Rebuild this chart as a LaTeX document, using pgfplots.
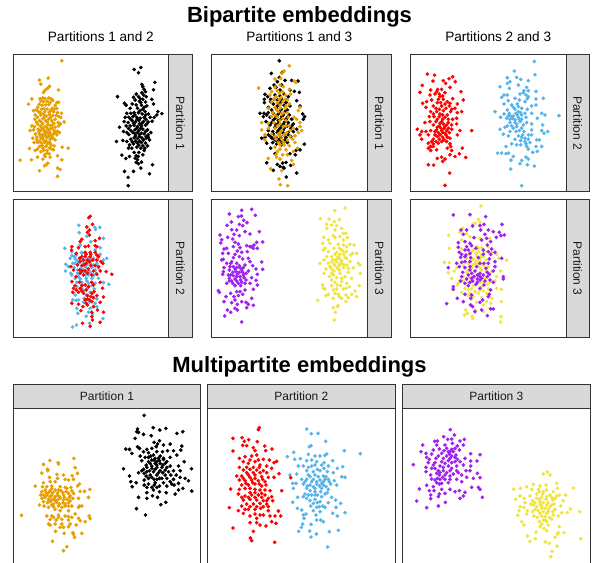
\documentclass[border=0pt]{standalone}
\usepackage{pgfplots}
\pgfplotsset{compat=1.18}
\usepackage{fontspec}
\setmainfont{Liberation Sans}
\definecolor{cor}{HTML}{E69F00}
\definecolor{csk}{HTML}{56B4E9}
\definecolor{cre}{HTML}{FF0000}
\definecolor{cpu}{HTML}{A020F0}
\definecolor{cye}{HTML}{F0E442}
\definecolor{cfr}{HTML}{333333}
\definecolor{cst}{HTML}{D9D9D9}
\definecolor{ctx}{HTML}{1A1A1A}
\pgfplotsset{
 pan/.style n args={8}{anchor=south west,at={(#1pt,{562pt-#4pt})},scale only axis,
  width={#2pt-#1pt},height={#4pt-#3pt},xmin=#5,xmax=#6,ymin=#7,ymax=#8,y dir=reverse,
  xtick=\empty,ytick=\empty,axis line style={draw=cfr,line width=1.0pt}},
 pts/.style={only marks,mark=*,mark size=1.65pt,color=#1,mark options={solid,draw=none,fill=#1}}
}
\newcommand{\vstrip}[5]{\filldraw[fill=cst,draw=cfr,line width=1.0pt] (#1pt,{562pt-#3pt}) rectangle (#2pt,{562pt-#4pt});
 \node[rotate=-90,text=ctx,inner sep=0pt] at ({(#1pt+#2pt)/2},{562pt-(#3pt+#4pt)/2}) {\fontsize{12}{14}\selectfont #5};}
\newcommand{\hstrip}[3]{\filldraw[fill=cst,draw=cfr,line width=1.0pt] (#1pt,{562pt-384.7pt}) rectangle (#2pt,{562pt-408.7pt});
 \node[text=ctx,inner sep=0pt] at ({(#1pt+#2pt)/2},{562pt-396.7pt}) {\fontsize{12}{14}\selectfont #3};}
\begin{document}
\begin{tikzpicture}
\useasboundingbox (0,0) rectangle (594pt,562pt);
\clip (0,0) rectangle (594pt,562pt);
% Row 1, panel 1
\begin{axis}[pan={13.5}{168.5}{54.5}{192}{40}{505}{163}{577}]
\addplot[pts=cor] coordinates {(185,182)(144,234)(118,240)(122,252)(148,259)(142,265)(175,270)(135,270)(130,277)(95,297)(85,313)(175,307)(60,481)(94,480)(118,513)(172,505)(180,509)(172,530)(204,445)(186,442)(172,468)(185,480)
(120,296)(128,294)(135,296)(146,294)(153,297)(158,301)(122,303)(130,305)(141,304)(150,307)(117,313)(126,316)(137,315)(146,314)(165,316)(170,308)(170,325)(184,340)(100,332)(108,330)(115,335)(124,328)(132,326)(142,328)(152,331)(160,335)(172,338)(105,345)(112,352)(122,345)(130,342)(138,348)(148,344)(158,347)(182,352)(192,366)(104,358)(118,362)(128,356)(136,362)(145,358)(155,363)(165,358)(174,368)(181,372)(95,378)(112,372)(120,378)(128,372)(135,380)(143,374)(150,377)(158,374)(165,382)(175,378)(90,392)(100,390)(114,388)(122,392)(130,388)(138,394)(146,390)(153,386)(162,392)(172,394)(178,398)(106,402)(118,402)(127,405)(135,402)(144,400)(152,405)(160,402)(170,405)(98,415)(110,412)(122,416)(130,420)(140,414)(150,418)(158,415)(165,420)(88,446)(102,428)(112,428)(124,430)(133,428)(142,432)(153,436)(162,438)(105,452)(112,448)(118,440)(128,445)(137,440)(148,444)(155,448)(112,472)(128,478)(133,465)(140,460)(147,462)(135,470)(150,472)(138,495)(143,490)(133,498)(160,450)
(113,322)(121,338)(134,335)(147,337)(156,325)(109,367)(124,367)(133,351)(142,367)(151,353)(161,370)(125,384)(133,396)(141,384)(149,397)(156,384)(167,398)(116,396)(103,380)(110,420)(120,408)(128,412)(137,408)(146,409)(155,411)(118,425)(138,424)(147,427)(126,437)(150,430)(131,452)(122,456)(141,452)(168,346)(176,350)(163,327)};
\addplot[pts=black] coordinates {(402,208)(422,202)(415,218)(464,247)(425,253)(460,269)(352,290)(485,341)(473,335)(358,382)(349,425)(365,466)(377,476)(373,515)(400,515)(384,533)(384,558)(457,495)(448,522)(422,505)(415,492)(388,470)
(428,260)(432,268)(436,275)(408,282)(400,292)(415,290)(438,290)(428,298)(405,300)(418,304)(436,306)(455,298)(460,312)(373,310)(378,316)(396,312)(408,315)(424,316)(440,318)(390,325)(412,325)(428,328)(435,335)(470,345)(380,340)(392,340)(402,338)(415,338)(426,342)(445,342)(375,352)(386,352)(398,350)(410,352)(420,355)(432,352)(450,352)(462,352)(372,365)(384,368)(396,362)(406,366)(416,362)(430,365)(444,366)(456,364)(378,378)(390,378)(402,376)(412,380)(424,378)(436,376)(370,395)(380,398)(392,392)(404,390)(416,392)(428,388)(442,390)(452,398)(405,402)(418,404)(432,402)(444,405)(368,422)(380,425)(392,418)(402,414)(412,416)(425,414)(438,415)(448,420)(388,435)(400,432)(412,430)(424,428)(436,430)(442,438)(395,445)(410,442)(422,445)(432,452)(402,458)(416,458)(428,465)(405,475)(412,480)(408,488)(424,487)(385,445)
(422,308)(432,322)(420,332)(437,345)(404,345)(392,358)(411,358)(425,370)(437,358)(400,370)(418,372)(440,372)(385,386)(410,385)(422,385)(436,395)(398,398)(412,398)(424,400)(438,410)(418,410)(406,408)(430,420)(418,424)(406,424)(396,426)(444,412)(428,438)(416,436)(434,445)(414,470)(408,468)(420,296)(430,285)(425,278)(386,404)};
\end{axis}
% Row 1, panel 2
\begin{axis}[pan={211.7}{367.3}{54.5}{192}{35}{502}{163}{577}]
\addplot[pts=black] coordinates {(238,182)(214,220)(246,217)(238,232)(232,245)(255,241)(275,241)(294,243)(222,255)(245,255)(210,265)(283,274)(298,277)(270,270)(195,283)(203,290)(225,285)(240,288)(252,282)(265,290)(193,298)(212,298)(232,300)(245,298)(260,300)(290,302)(193,308)(220,312)(238,312)(252,316)(270,318)(205,322)(228,325)(244,328)(262,330)(300,318)(180,340)(192,340)(205,338)(220,340)(235,342)(250,345)(268,345)(308,342)(314,350)(190,350)(210,352)(226,355)(242,358)(258,358)(275,358)(310,358)(198,365)(215,368)(235,370)(250,372)(265,368)(280,372)(225,382)(240,385)(255,382)(272,385)(290,388)(205,392)(218,395)(232,398)(248,398)(264,398)(280,395)(185,415)(195,412)(212,410)(228,412)(242,412)(258,412)(272,410)(200,430)(218,428)(232,425)(246,428)(262,428)(313,433)(288,452)(300,450)(225,462)(270,462)(286,465)(200,489)(232,494)(248,490)(258,488)(272,497)(240,500)(250,503)(220,512)(252,505)(290,520)(259,532)(235,420)(212,445)
(228,262)(240,270)(222,298)(212,305)(232,318)(244,305)(258,308)(215,330)(238,335)(255,335)(200,345)(228,348)(245,350)(262,352)(220,360)(235,362)(255,365)(210,375)(228,375)(245,378)(262,378)(235,392)(250,390)(220,402)(238,405)(252,405)(265,405)(225,420)(240,420)(255,420)(230,432)(245,435)(205,405)(275,378)(216,415)};
\addplot[pts=cor] coordinates {(268,197)(252,213)(245,220)(225,237)(242,235)(283,243)(288,248)(176,264)(240,255)(250,260)(268,268)(215,275)(232,272)(248,276)(272,282)(210,285)(228,290)(244,292)(262,300)(215,305)(232,308)(248,305)(268,312)(300,322)(205,325)(225,322)(240,325)(256,325)(295,332)(218,338)(235,335)(250,338)(282,352)(215,350)(232,352)(248,355)(265,352)(290,358)(205,370)(222,368)(240,372)(258,378)(300,368)(185,368)(185,390)(205,385)(225,385)(245,392)(270,392)(300,380)(305,392)(195,405)(215,402)(235,402)(252,405)(285,408)(295,398)(228,418)(245,418)(262,420)(285,428)(195,420)(252,435)(268,438)(292,445)(240,448)(258,450)(280,455)(205,476)(228,465)(230,472)(240,478)(275,482)(280,494)(212,507)(245,513)(237,538)(241,555)(263,558)(225,442)
(225,262)(238,280)(256,285)(222,298)(238,298)(255,298)(240,315)(258,318)(230,330)(245,342)(262,338)(225,345)(240,362)(258,362)(232,378)(250,380)(268,378)(240,398)(260,398)(280,385)(225,410)(240,408)(270,410)(235,428)(250,428)(278,418)(240,435)(232,455)(262,465)(248,465)};
\end{axis}
% Row 1, panel 3
\begin{axis}[pan={410.3}{566}{54.5}{192}{31}{498}{163}{577}]
\addplot[pts=cre] coordinates {(82,222)(104,225)(158,230)(147,236)(99,243)(130,242)(166,245)(67,256)(137,250)(150,262)(60,277)(113,268)(125,268)(92,270)(183,275)(135,278)(90,285)(105,282)(118,282)(128,288)(158,296)(190,300)(68,310)(80,305)(95,300)(115,298)(130,298)(142,305)(172,312)(78,322)(100,318)(125,318)(148,318)(165,325)(185,335)(92,335)(110,335)(130,332)(152,335)(172,338)(88,350)(102,350)(118,350)(135,352)(158,358)(170,355)(90,365)(108,365)(125,365)(145,368)(75,368)(100,375)(118,378)(135,380)(155,375)(170,372)(52,388)(65,395)(78,395)(92,392)(110,390)(125,392)(140,392)(155,388)(180,392)(215,392)(60,405)(85,405)(105,405)(120,405)(138,405)(172,405)(65,418)(100,418)(118,418)(132,420)(150,415)(85,430)(100,432)(115,430)(150,432)(85,445)(110,450)(142,445)(155,452)(187,445)(178,462)(165,470)(197,473)(112,476)(125,472)(135,478)(128,485)(85,495)(101,496)(149,520)(135,557)(150,465)(92,452)
(110,275)(120,290)(112,308)(122,308)(135,312)(150,310)(108,325)(118,328)(138,325)(155,328)(100,342)(120,342)(128,345)(142,345)(112,358)(128,358)(145,358)(120,370)(130,372)(140,375)(112,382)(122,384)(132,386)(145,385)(128,398)(115,398)(105,395)(135,400)(148,398)(112,410)(128,412)(142,412)(95,425)(108,425)(125,425)(92,440)(140,425)(100,440)(152,440)};
\addplot[pts=csk] coordinates {(403,184)(343,213)(405,224)(322,233)(350,232)(362,238)(385,242)(330,245)(322,250)(355,255)(300,260)(328,265)(380,262)(408,274)(372,272)(385,272)(312,285)(322,285)(360,282)(378,285)(385,290)(305,292)(345,295)(408,297)(430,295)(325,302)(358,300)(375,305)(312,312)(335,315)(352,312)(395,318)(408,315)(285,335)(322,330)(345,328)(365,325)(382,328)(312,342)(328,345)(348,340)(362,338)(395,340)(425,340)(477,347)(302,352)(320,355)(338,355)(355,352)(378,352)(412,355)(435,345)(330,368)(345,368)(360,365)(380,368)(395,372)(428,375)(315,382)(335,378)(350,380)(300,388)(365,385)(425,392)(432,400)(443,395)(310,403)(330,395)(348,395)(372,395)(395,405)(325,408)(355,408)(365,412)(418,420)(410,420)(335,432)(375,425)(390,428)(350,435)(362,435)(380,440)(318,440)(425,440)(408,440)(385,448)(293,460)(305,460)(318,462)(326,460)(340,470)(398,458)(412,455)(333,481)(378,472)(365,482)(385,478)(360,492)(382,495)(403,499)(332,508)(365,558)
(370,278)(382,296)(340,322)(355,320)(328,340)(340,348)(352,345)(365,345)(330,358)(345,360)(358,358)(365,358)(325,348)(350,372)(370,375)(340,385)(358,392)(385,405)(375,415)(385,418)(368,405)(378,432)(362,422)(345,418)(395,390)(322,378)(335,350)(355,335)(375,340)};
\end{axis}
% Row 2, panel 1
\begin{axis}[pan={13.5}{168.5}{200}{337.3}{40}{505}{15}{427}]
\addplot[pts=csk] coordinates {(236,91)(237,113)(284,97)(299,97)(286,103)(260,124)(310,130)(272,140)(194,160)(300,158)(215,170)(240,150)(285,165)(215,182)(228,180)(245,175)(300,178)(320,190)(210,190)(225,192)(240,190)(265,190)(280,190)(310,195)(197,208)(235,205)(250,205)(270,205)(290,205)(205,215)(222,218)(242,220)(258,218)(275,218)(295,218)(196,228)(212,235)(232,235)(250,232)(270,232)(288,235)(225,250)(240,252)(258,250)(275,250)(295,250)(310,263)(326,268)(230,262)(245,262)(265,265)(285,265)(245,282)(262,280)(282,282)(218,315)(228,316)(235,315)(252,310)(290,312)(250,322)(268,322)(285,325)(230,340)(270,340)(290,335)(233,355)(265,352)(258,364)(277,358)(308,371)(268,385)(229,390)(217,396)
(222,185)(232,198)(248,195)(258,198)(272,195)(218,205)(260,210)(280,210)(232,225)(250,225)(265,228)(285,225)(215,240)(235,245)(255,240)(265,240)(280,242)(245,270)(260,258)(275,272)(230,275)(250,288)(270,292)(225,300)(258,300)(245,172)(225,205)};
\addplot[pts=cre] coordinates {(270,64)(266,68)(277,88)(260,96)(268,105)(262,112)(268,120)(245,133)(240,140)(298,130)(285,137)(215,155)(214,165)(235,158)(255,155)(265,153)(285,152)(290,155)(228,175)(255,172)(270,172)(290,180)(255,185)(270,185)(295,185)(240,200)(262,195)(278,195)(302,200)(232,210)(212,215)(252,210)(285,212)(308,205)(245,228)(265,222)(300,228)(318,230)(335,238)(228,245)(250,240)(275,240)(215,260)(238,262)(255,270)(275,262)(300,262)(220,280)(240,280)(265,275)(307,280)(218,292)(235,292)(250,295)(275,295)(290,302)(310,306)(262,312)(280,308)(215,325)(235,328)(258,325)(275,320)(300,322)(248,335)(262,330)(280,335)(242,347)(292,345)(275,352)(310,352)(275,365)(277,375)(300,382)(247,385)(270,394)(285,172)
(245,185)(258,178)(272,178)(238,190)(250,195)(268,200)(290,195)(245,212)(258,205)(272,212)(295,215)(238,225)(255,228)(280,228)(220,225)(240,235)(262,235)(290,238)(225,272)(245,272)(280,270)(228,285)(245,288)(258,285)(282,290)(262,302)(272,305)(255,315)(268,315)};
\end{axis}
% Row 2, panel 2
\begin{axis}[pan={211.7}{367.3}{200}{337.3}{35}{502}{15}{427}]
\addplot[pts=cpu] coordinates {(125,46)(155,43)(88,57)(166,61)(115,65)(124,63)(131,76)(94,81)(141,83)(81,91)(118,88)(128,92)(95,104)(110,105)(135,110)(178,110)(150,117)(60,120)(102,118)(118,122)(83,127)(98,132)(65,134)(62,144)(105,142)(188,141)(170,142)(115,147)(140,152)(155,155)(80,160)(72,162)(120,158)(160,160)(172,160)(68,175)(85,175)(105,178)(125,172)(142,170)(70,193)(100,188)(128,192)(145,190)(65,195)(80,205)(95,200)(110,205)(150,200)(185,201)(72,218)(118,212)(135,210)(158,212)(188,223)(168,222)(70,230)(88,225)(105,222)(125,225)(145,228)(68,238)(92,240)(112,238)(130,240)(172,238)(155,248)(88,250)(105,252)(122,255)(168,256)(80,265)(98,265)(115,265)(135,265)(172,270)(160,283)(55,287)(58,292)(120,290)(135,285)(92,295)(110,290)(78,305)(102,305)(155,310)(105,315)(72,320)(95,323)(125,320)(138,322)(112,328)(145,328)(160,331)(140,338)(82,345)(92,352)(105,340)(112,345)(74,363)(125,381)
(100,155)(112,168)(118,185)(90,215)(100,215)(110,218)(120,218)(130,218)(98,232)(108,230)(118,232)(128,232)(138,235)(85,240)(100,242)(120,245)(132,248)(110,245)(95,258)(110,258)(125,262)(138,255)(88,258)(105,272)(122,272)(150,265)(150,155)(162,150)(115,302)(128,298)(92,205)};
\addplot[pts=cye] coordinates {(435,39)(404,47)(361,71)(387,72)(418,74)(403,80)(380,88)(395,90)(410,92)(380,100)(405,105)(425,100)(438,115)(372,127)(400,122)(420,125)(442,128)(385,135)(430,135)(368,145)(390,145)(450,148)(462,150)(375,160)(402,160)(418,160)(440,155)(370,165)(385,170)(410,172)(430,170)(458,175)(470,175)(380,185)(395,185)(415,185)(435,188)(372,195)(405,195)(425,198)(450,200)(360,205)(385,205)(402,207)(418,207)(440,210)(475,205)(480,210)(378,222)(395,222)(412,220)(430,218)(460,218)(372,235)(395,235)(420,235)(445,232)(481,235)(388,245)(410,248)(435,245)(455,250)(405,262)(425,260)(368,270)(395,272)(440,265)(478,272)(375,282)(410,282)(430,282)(448,275)(405,295)(385,298)(378,302)(415,298)(438,300)(465,288)(455,298)(470,305)(400,310)(425,310)(445,308)(353,316)(438,320)(415,332)(400,338)(412,334)(406,352)(403,375)(418,305)(370,280)
(405,178)(420,178)(432,178)(398,195)(412,190)(420,192)(395,200)(410,200)(425,205)(432,210)(405,212)(418,212)(390,215)(402,228)(418,225)(440,190)(400,240)(425,250)(395,255)(412,270)(422,272)(438,280)(400,285)(405,128)(430,115)(415,148)(430,150)(425,165)(440,170)(445,220)(452,180)};
\end{axis}
% Row 2, panel 3
\begin{axis}[pan={410.3}{566}{200}{337.3}{31}{498}{15}{427}]
\addplot[pts=cye] coordinates {(243,33)(235,73)(225,85)(218,88)(240,82)(188,100)(180,112)(146,121)(200,117)(270,130)(185,135)(210,125)(240,130)(148,160)(230,155)(245,158)(265,155)(185,162)(220,165)(235,170)(255,170)(275,172)(210,178)(230,182)(245,180)(290,178)(200,190)(220,192)(240,195)(258,195)(296,190)(133,202)(148,203)(205,205)(225,205)(245,208)(320,196)(190,212)(170,218)(215,218)(240,218)(265,215)(145,233)(163,228)(200,232)(225,230)(275,230)(302,228)(155,250)(190,245)(210,248)(255,250)(290,245)(175,265)(205,262)(230,268)(262,268)(285,258)(158,283)(172,270)(195,280)(215,282)(240,285)(265,282)(290,280)(304,283)(210,295)(235,295)(260,295)(195,298)(185,292)(220,305)(245,308)(275,310)(260,320)(272,325)(304,320)(230,322)(250,330)(225,345)(197,345)(202,355)(193,360)(250,350)(217,364)(218,371)(303,365)(302,381)(270,340)
(215,170)(235,160)(228,175)(240,188)(215,195)(228,198)(250,185)(235,205)(218,210)(232,212)(252,212)(205,225)(245,225)(258,230)(215,235)(235,240)(190,258)(215,255)(240,262)(250,262)(270,262)(220,272)(245,275)(205,285)(225,290)(250,288)(215,312)(205,302)(180,258)};
\addplot[pts=cpu] coordinates {(160,60)(210,59)(257,65)(306,88)(218,93)(240,92)(252,88)(183,105)(200,105)(242,105)(265,105)(280,110)(298,112)(190,118)(255,118)(313,120)(303,122)(289,127)(222,128)(260,130)(175,143)(195,140)(210,145)(245,135)(272,140)(175,157)(200,155)(215,152)(262,150)(195,165)(250,165)(275,162)(178,172)(210,175)(250,178)(285,172)(182,187)(195,185)(235,188)(268,192)(305,190)(170,205)(185,202)(210,200)(252,205)(285,200)(145,218)(178,215)(195,218)(230,215)(258,220)(285,215)(188,232)(215,235)(240,235)(268,238)(310,245)(182,258)(200,252)(222,245)(240,245)(262,245)(310,252)(195,265)(218,258)(240,255)(270,255)(160,275)(205,272)(228,268)(252,270)(160,283)(240,280)(272,285)(195,298)(215,300)(265,305)(172,310)(212,310)(248,315)(190,320)(140,326)(212,330)(240,322)(218,335)(245,345)(280,342)(272,342)(225,350)(262,362)(268,298)
(205,165)(212,188)(228,160)(185,178)(195,200)(240,205)(265,205)(210,215)(225,228)(205,240)(232,240)(250,240)(262,232)(280,228)(210,225)(245,250)(215,250)(232,252)(255,258)(210,262)(232,262)(280,262)(185,245)(265,170)(272,178)(198,180)};
\end{axis}
% Row 3, panel 1
\begin{axis}[pan={13.5}{200.5}{408.7}{570}{40}{601}{86}{570}]
\addplot[pts=cor] coordinates {(149,241)(221,235)(130,253)(174,248)(175,252)(225,263)(142,268)(143,272)(125,279)(170,283)(232,280)(190,285)(216,287)(148,292)(172,295)(195,298)(205,300)(220,298)(130,308)(150,305)(165,305)(105,318)(238,312)(232,318)(127,320)(140,320)(155,318)(180,320)(195,322)(212,322)(240,334)(253,334)(269,328)(135,330)(150,332)(165,330)(182,332)(198,335)(215,332)(122,345)(140,345)(155,345)(172,345)(190,345)(210,348)(265,352)(125,355)(145,358)(162,355)(180,355)(200,358)(218,355)(235,355)(130,365)(150,365)(170,368)(188,368)(205,368)(118,375)(132,378)(155,375)(175,378)(195,378)(215,378)(238,378)(245,378)(165,388)(180,392)(205,392)(235,382)(64,406)(140,408)(155,408)(175,405)(195,408)(225,402)(267,408)(270,416)(150,418)(168,420)(185,418)(205,420)(235,415)(255,425)(145,432)(165,432)(185,432)(210,432)(240,422)(228,435)(150,435)(180,442)(190,442)(205,440)(166,454)(192,460)(218,458)(220,463)(245,460)(223,472)(157,484)(200,500)(190,512)
(145,338)(158,338)(172,338)(188,338)(205,340)(135,352)(150,350)(165,350)(178,350)(192,352)(208,352)(155,360)(172,360)(190,360)(142,368)(160,372)(178,372)(195,372)(210,362)(165,362)(138,338)(125,335)(145,382)(160,380)(185,382)(220,340)(130,345)(175,330)(155,325)(200,325)(205,378)(175,412)(205,410)(215,412)(160,412)};
\addplot[pts=black] coordinates {(432,106)(412,147)(410,155)(459,143)(479,150)(497,145)(548,155)(530,160)(415,157)(430,163)(453,167)(405,175)(478,182)(462,187)(472,192)(510,192)(490,195)(377,207)(388,208)(395,220)(412,200)(418,205)(440,208)(455,205)(468,200)(545,198)(502,212)(520,212)(542,210)(430,215)(445,218)(470,215)(487,215)(420,228)(435,232)(452,228)(480,228)(510,232)(530,225)(425,242)(445,245)(462,240)(478,242)(500,245)(552,245)(370,266)(438,255)(455,258)(470,255)(488,255)(510,258)(535,258)(574,266)(430,268)(448,272)(465,268)(480,272)(495,270)(520,272)(540,272)(415,278)(432,280)(450,285)(470,285)(495,285)(512,285)(528,285)(388,288)(445,295)(462,298)(478,295)(540,292)(555,295)(565,302)(392,305)(408,308)(445,312)(465,308)(490,308)(515,312)(535,310)(396,320)(432,315)(455,322)(470,322)(500,318)(522,315)(575,333)(548,325)(535,330)(525,342)(440,338)(460,330)(478,335)(498,338)(415,352)(440,355)(457,347)(472,352)(497,367)(482,374)(409,386)(436,405)
(460,225)(475,235)(490,235)(450,250)(465,250)(480,250)(495,250)(440,262)(455,265)(470,262)(485,262)(500,262)(460,275)(475,278)(488,278)(425,272)(440,275)(505,275)(438,288)(455,292)(485,295)(500,295)(432,300)(470,298)(520,298)(440,322)(462,315)(478,318)(510,305)(490,238)(470,245)(455,240)(465,235)(445,232)};
\end{axis}
% Row 3, panel 2
\begin{axis}[pan={207.7}{395}{408.7}{570}{23}{585}{86}{570}]
\addplot[pts=csk] coordinates {(320,147)(354,160)(334,161)(377,184)(333,197)(328,200)(433,212)(481,221)(281,217)(262,230)(325,223)(380,222)(345,228)(360,228)(375,226)(284,238)(301,236)(398,242)(320,242)(335,240)(350,245)(372,248)(295,258)(310,258)(325,262)(345,255)(365,255)(385,258)(412,265)(428,260)(320,272)(340,275)(360,272)(382,275)(400,278)(270,285)(290,282)(325,285)(345,285)(370,288)(425,290)(435,292)(305,298)(320,298)(340,298)(360,300)(385,298)(403,302)(278,310)(288,310)(310,312)(330,315)(350,312)(370,315)(392,312)(410,315)(280,325)(320,325)(345,325)(365,325)(385,328)(315,342)(335,345)(352,345)(375,342)(293,352)(320,355)(345,358)(395,352)(407,360)(278,367)(330,362)(352,368)(385,368)(422,370)(292,385)(332,378)(358,380)(375,382)(408,382)(305,390)(340,392)(360,395)(398,400)(435,398)(412,408)(310,405)(318,402)(348,405)(312,415)(350,420)(362,420)(370,425)(308,432)(304,442)(333,433)(296,454)(329,453)(349,462)(333,471)(388,455)(415,451)(383,501)
(335,258)(352,268)(372,265)(330,290)(355,290)(378,290)(315,305)(335,305)(350,305)(370,305)(388,305)(322,318)(340,320)(358,318)(378,320)(330,332)(345,335)(362,335)(382,338)(325,345)(345,345)(365,350)(350,382)(368,378)(360,365)(340,370)(310,350)(365,310)(375,298)};
\addplot[pts=cre] coordinates {(178,143)(175,149)(99,175)(126,173)(146,179)(133,184)(172,185)(128,196)(140,197)(194,198)(160,203)(197,212)(216,207)(99,213)(165,212)(118,235)(135,230)(155,228)(170,225)(190,238)(208,240)(230,244)(222,248)(130,245)(145,250)(165,245)(180,255)(200,258)(118,262)(130,270)(150,268)(170,270)(190,272)(215,265)(237,281)(110,288)(125,288)(145,285)(165,285)(185,290)(205,292)(222,292)(118,300)(135,302)(155,300)(175,302)(195,305)(125,315)(145,315)(165,312)(185,318)(92,327)(118,328)(150,325)(180,330)(210,332)(245,332)(115,342)(135,348)(155,345)(175,345)(195,345)(215,350)(130,360)(150,358)(170,360)(190,362)(205,355)(125,378)(140,372)(160,372)(180,370)(200,372)(218,362)(88,383)(115,392)(130,400)(145,388)(165,388)(182,385)(205,392)(235,393)(150,408)(190,405)(210,408)(225,408)(242,408)(170,415)(150,428)(170,428)(180,435)(215,425)(228,430)(198,438)(99,444)(160,454)(151,474)(155,482)(224,487)(272,293)
(150,240)(175,240)(140,262)(160,262)(178,262)(140,278)(160,278)(180,278)(200,278)(130,295)(150,292)(165,295)(188,298)(138,310)(158,308)(178,312)(198,315)(135,325)(165,328)(195,330)(150,338)(165,338)(185,340)(125,352)(145,352)(165,352)(185,352)(200,362)(150,380)(170,380)(190,380)(135,388)(205,380)(180,405)(165,402)};
\end{axis}
% Row 3, panel 3
\begin{axis}[pan={402.7}{590}{408.7}{570}{8}{570}{86}{570}]
\addplot[pts=cpu] coordinates {(151,149)(163,165)(131,170)(104,184)(112,183)(143,178)(155,177)(180,183)(193,178)(68,195)(110,195)(157,190)(172,198)(190,195)(63,215)(100,210)(118,207)(140,205)(155,208)(178,210)(212,221)(240,224)(78,220)(95,222)(125,220)(148,222)(168,225)(80,232)(108,235)(130,235)(150,235)(172,238)(195,235)(40,254)(85,248)(105,248)(125,245)(155,248)(180,245)(212,243)(231,243)(78,262)(95,265)(120,258)(145,258)(170,258)(190,255)(212,258)(78,275)(115,272)(130,272)(150,272)(170,272)(198,272)(210,272)(232,280)(92,285)(118,285)(135,285)(160,282)(185,285)(95,297)(120,298)(150,298)(170,298)(200,292)(220,295)(240,293)(110,308)(125,310)(145,308)(185,305)(80,316)(100,320)(215,322)(235,322)(240,328)(58,327)(88,332)(102,332)(125,328)(150,328)(165,335)(178,332)(195,337)(118,342)(135,340)(92,345)(92,356)(115,350)(190,348)(180,355)(247,352)(50,363)(136,367)(115,378)(80,383)
(135,195)(150,215)(160,215)(140,228)(155,228)(165,232)(115,228)(145,242)(165,245)(135,250)(130,262)(155,265)(110,280)(120,278)(128,292)(112,295)(105,300)(118,312)(140,278)(175,278)(150,288)(100,255)(145,215)(132,212)(88,238)(165,205)(105,265)(135,298)};
\addplot[pts=cye] coordinates {(442,276)(430,282)(450,285)(470,310)(520,324)(341,328)(361,325)(380,320)(400,313)(420,318)(438,315)(472,325)(395,328)(415,328)(440,330)(460,335)(478,345)(497,345)(360,348)(347,358)(372,355)(390,348)(410,342)(428,342)(450,345)(470,348)(375,368)(398,362)(418,358)(438,358)(458,360)(490,362)(360,380)(372,382)(400,375)(420,372)(440,375)(462,372)(482,378)(511,387)(357,392)(382,392)(405,388)(425,385)(445,388)(465,388)(485,398)(502,398)(539,395)(353,406)(380,402)(402,408)(420,400)(440,400)(460,405)(475,408)(365,425)(372,435)(418,425)(435,420)(455,418)(478,440)(425,432)(445,435)(440,452)(408,456)(475,458)(492,458)(465,472)(472,462)(382,468)(406,476)(390,484)(436,486)(448,490)(542,476)(471,498)(456,514)(452,530)
(410,355)(425,352)(440,350)(455,352)(405,368)(420,365)(430,368)(445,368)(455,375)(410,380)(425,378)(435,385)(450,380)(415,392)(430,395)(445,395)(458,395)(425,408)(435,410)(448,412)(412,412)(430,420)(440,425)(420,440)(432,445)(392,372)(465,355)(398,395)(418,335)(430,335)};
\end{axis}
% Strips
\vstrip{168.5}{192.5}{54.5}{192}{Partition 1}
\vstrip{367.3}{391.3}{54.5}{192}{Partition 1}
\vstrip{566}{589.5}{54.5}{192}{Partition 2}
\vstrip{168.5}{192.5}{200}{337.3}{Partition 2}
\vstrip{367.3}{391.3}{200}{337.3}{Partition 3}
\vstrip{566}{589.5}{200}{337.3}{Partition 3}
\hstrip{13.5}{200.5}{Partition 1}
\hstrip{207.7}{395}{Partition 2}
\hstrip{402.7}{590}{Partition 3}
% Titles
\node[inner sep=0pt,anchor=base] at (299.5pt,{562pt-22.5pt}) {\fontsize{22}{24}\selectfont\bfseries Bipartite embeddings};
\node[inner sep=0pt,anchor=base] at (299.5pt,{562pt-372.5pt}) {\fontsize{22}{24}\selectfont\bfseries Multipartite embeddings};
\node[inner sep=0pt,anchor=base] at (100.8pt,{562pt-42pt}) {\fontsize{13.6}{16}\selectfont Partitions 1 and 2};
\node[inner sep=0pt,anchor=base] at (299.3pt,{562pt-42pt}) {\fontsize{13.6}{16}\selectfont Partitions 1 and 3};
\node[inner sep=0pt,anchor=base] at (498.2pt,{562pt-42pt}) {\fontsize{13.6}{16}\selectfont Partitions 2 and 3};
\end{tikzpicture}
\end{document}
